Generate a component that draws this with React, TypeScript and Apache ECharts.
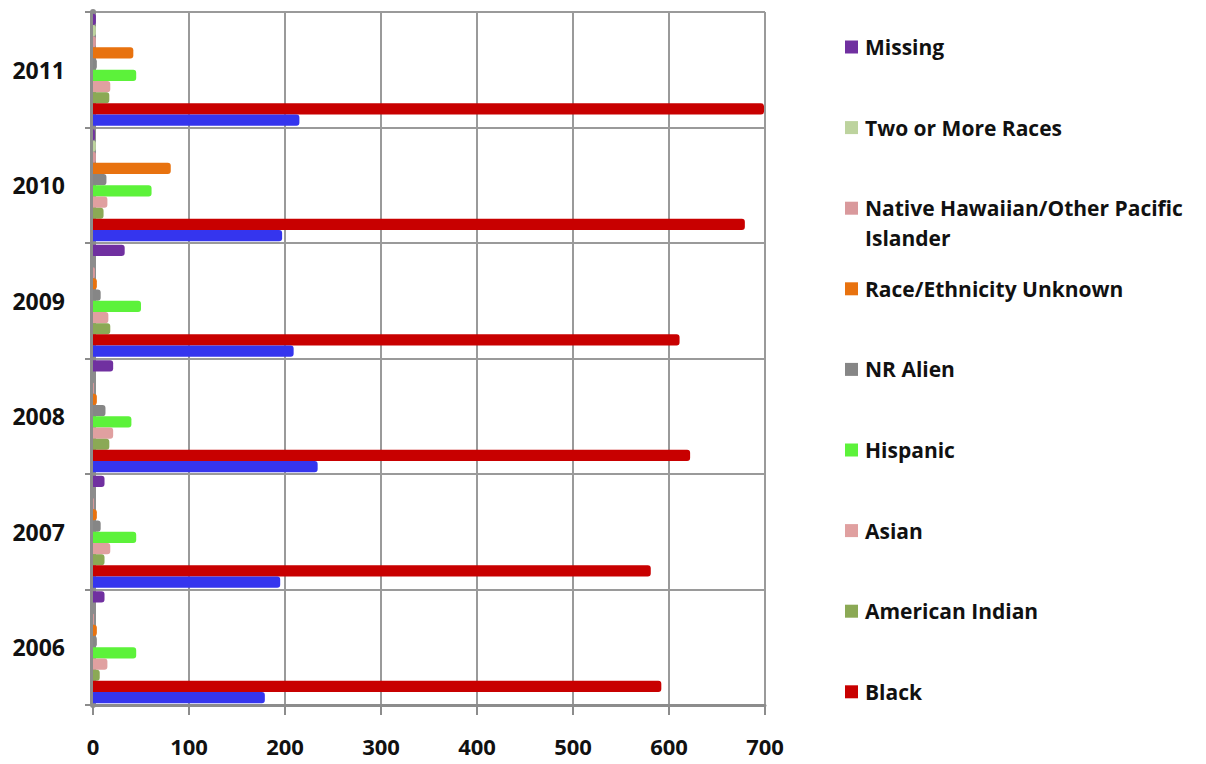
import React, { useEffect, useRef } from "react";
import * as echarts from "echarts";

const years = ["2006", "2007", "2008", "2009", "2010", "2011"];
const xTicks = [0, 100, 200, 300, 400, 500, 600, 700];

const white = [179, 195, 234, 209, 197, 215];
const black = [592, 581, 622, 611, 679, 699];
const americanIndian = [7, 12, 17, 18, 11, 17];
const asian = [15, 18, 21, 16, 15, 18];
const hispanic = [45, 45, 40, 50, 61, 45];
const nrAlien = [4, 8, 13, 8, 14, 4];
const raceUnknown = [4, 4, 4, 4, 81, 42];
const nativeHawaiian = [1, 1, 1, 2, 3, 3];
const twoOrMore = [0, 0, 0, 0, 3, 3];
const missing = [12, 12, 21, 33, 2, 3];

const seriesNames = [
  "White",
  "Black",
  "American Indian",
  "Asian",
  "Hispanic",
  "NR Alien",
  "Race/Ethnicity Unknown",
  "Native Hawaiian/Other Pacific Islander",
  "Two or More Races",
  "Missing",
];
const seriesValues = [
  white,
  black,
  americanIndian,
  asian,
  hispanic,
  nrAlien,
  raceUnknown,
  nativeHawaiian,
  twoOrMore,
  missing,
];
const seriesColors = [
  "#3535EE",
  "#C80000",
  "#8BA955",
  "#E0A0A0",
  "#5CF23A",
  "#868686",
  "#E8720F",
  "#D9999C",
  "#BDD39E",
  "#7030A0",
];
const legendDisplay: Record<string, string> = {
  "Native Hawaiian/Other Pacific Islander": "Native Hawaiian/Other Pacific\nIslander",
};

const FONT = "'Open Sans', Lato, sans-serif";

export default function App() {
  const ref = useRef<HTMLDivElement>(null);
  useEffect(() => {
    if (!ref.current) return;
    const chart = echarts.init(ref.current, null, { renderer: "svg" });

    const legendItems: any[] = [];
    const legendIdx = seriesNames.map((_, i) => i).slice(1).reverse();
    legendIdx.forEach((si, k) => {
      const cy = 47 + k * 80.6;
      legendItems.push({
        type: "rect",
        shape: { x: 845, y: cy - 6.5, width: 13, height: 13 },
        style: { fill: seriesColors[si] },
      });
      legendItems.push({
        type: "text",
        x: 865,
        y: cy - 15,
        style: {
          text: legendDisplay[seriesNames[si]] || seriesNames[si],
          fontFamily: FONT,
          fontWeight: "bold",
          fontSize: 21,
          lineHeight: 30,
          fill: "#111",
          verticalAlign: "top",
          align: "left",
        },
      });
    });

    // ECharts lays out a horizontal bar group from the top, so reverse
    const order = seriesNames.map((_, i) => i).reverse();

    chart.setOption({
      animation: false,
      backgroundColor: "#ffffff",
      grid: { left: 93, right: 441, top: 12, bottom: 59, containLabel: false },
      xAxis: {
        type: "value",
        min: 0,
        max: 700,
        interval: 100,
        axisLine: { show: true, lineStyle: { color: "#8c8c8c", width: 3 } },
        axisTick: { show: true, length: 10, lineStyle: { color: "#8c8c8c", width: 2 } },
        axisLabel: {
          margin: 30,
          fontFamily: FONT,
          fontWeight: "bold",
          fontSize: 22,
          color: "#111",
          formatter: (v: number) => (xTicks.includes(v) ? String(v) : ""),
        },
        splitLine: { show: true, lineStyle: { color: "#9a9a9a", width: 2 } },
      },
      yAxis: {
        type: "category",
        data: years,
        axisLine: { show: true, lineStyle: { color: "#8c8c8c", width: 6 } },
        axisTick: { show: true, length: 8, lineStyle: { color: "#8c8c8c", width: 2 } },
        axisLabel: {
          margin: 28,
          fontFamily: FONT,
          fontWeight: "bold",
          fontSize: 23,
          color: "#111",
        },
        splitLine: { show: true, lineStyle: { color: "#9a9a9a", width: 2 } },
      },
      graphic: legendItems,
      series: order.map((i) => ({
        name: seriesNames[i],
        type: "bar",
        data: seriesValues[i],
        barGap: "0%",
        barCategoryGap: "3%",
        itemStyle: {
          color: seriesColors[i],
          borderRadius: [0, 3, 3, 0],
        },
      })),
    });
    return () => chart.dispose();
  }, []);
  return (
    <div
      ref={ref}
      style={{ position: "fixed", left: 0, top: 0, width: 1206, height: 764, background: "#fff" }}
    />
  );
}
